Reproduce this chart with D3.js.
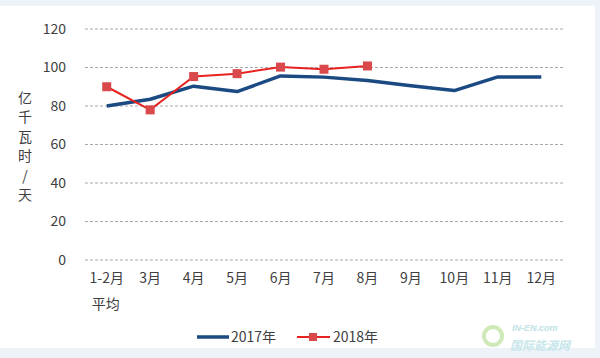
<!DOCTYPE html>
<html><head><meta charset="utf-8">
<script src="https://cdn.jsdelivr.net/npm/d3@7/dist/d3.min.js"></script>
<style>html,body{margin:0;padding:0;background:#fff;}svg{display:block;}</style>
</head><body>
<svg id="chart" width="600" height="358"></svg>
<script>
const categories = ["1-2月","3月","4月","5月","6月","7月","8月","9月","10月","11月","12月"];
const series2017 = [80, 83.5, 90.3, 87.5, 95.6, 95.0, 93.3, 90.5, 88.0, 95.1, 95.1];
const series2018 = [90, 78, 95.3, 96.8, 100.2, 99.1, 100.8];
const yTicks = [0, 20, 40, 60, 80, 100, 120];
const yTitle = ["亿","千","瓦","时","/","天"];
const legendNames = ["2017年","2018年"];

const svg = d3.select("#chart");
const font = "'Noto Sans CJK SC','Noto Sans',sans-serif";
svg.append("rect").attr("width",600).attr("height",358).attr("fill","#edf3f9");
svg.append("rect").attr("x",0).attr("y",6).attr("width",595).attr("height",342).attr("fill","#ffffff");

const x = d3.scaleBand().domain(categories).range([85,563]);
const y = d3.scaleLinear().domain([0,120]).range([260,29]);

// gridlines
svg.append("g").selectAll("line").data(yTicks).join("line")
  .attr("x1",85).attr("x2",563)
  .attr("y1",d=>y(d)).attr("y2",d=>y(d))
  .attr("stroke","#a8a8a8").attr("stroke-width",1).attr("stroke-dasharray","3,2");

// y axis
const yAxis = svg.append("g").attr("transform","translate(66,0)")
  .call(d3.axisLeft(y).tickValues(yTicks).tickSize(0).tickPadding(0));
yAxis.select(".domain").remove();
yAxis.selectAll("text").attr("font-family",font).attr("font-size",14).attr("fill","#404040");

// x axis
const xAxis = svg.append("g").attr("transform","translate(0,273)")
  .call(d3.axisBottom(x).tickSize(0).tickPadding(0));
xAxis.select(".domain").remove();
xAxis.selectAll("text").attr("font-family",font).attr("font-size",14).attr("fill","#404040").attr("dy","0.71em");
svg.append("text").attr("x",x(categories[0])+x.bandwidth()/2-1).attr("y",309)
  .attr("text-anchor","middle").attr("font-family",font).attr("font-size",14).attr("fill","#404040").text("平均");

// y title
svg.append("g").selectAll("text").data(yTitle).join("text")
  .attr("x",25).attr("y",(d,i)=>98+i*19.4).attr("dy","0.35em")
  .attr("text-anchor","middle").attr("font-family",font).attr("font-size",14).attr("fill","#404040")
  .text(d=>d);

const cx = d=>x(d)+x.bandwidth()/2;
const line = d3.line().x((d,i)=>cx(categories[i])).y(d=>y(d));

svg.append("path").datum(series2017).attr("d",line)
  .attr("fill","none").attr("stroke","#1b4a82").attr("stroke-width",3.5).attr("stroke-linejoin","round");
svg.append("path").datum(series2018).attr("d",line)
  .attr("fill","none").attr("stroke","#e8231f").attr("stroke-width",2);
svg.append("g").selectAll("rect").data(series2018).join("rect")
  .attr("x",(d,i)=>cx(categories[i])-4.5).attr("y",d=>y(d)-4.5)
  .attr("width",9).attr("height",9).attr("fill","#d9484a");

// legend
const lg = svg.append("g");
lg.append("line").attr("x1",197).attr("x2",229).attr("y1",337).attr("y2",337).attr("stroke","#1b4a82").attr("stroke-width",3.5);
lg.append("text").attr("x",231).attr("y",337).attr("dy","0.35em").attr("font-family",font).attr("font-size",14).attr("fill","#404040").text(legendNames[0]);
lg.append("line").attr("x1",297).attr("x2",330).attr("y1",337).attr("y2",337).attr("stroke","#e8231f").attr("stroke-width",2);
lg.append("rect").attr("x",309).attr("y",333).attr("width",8).attr("height",8).attr("fill","#d9484a");
lg.append("text").attr("x",333).attr("y",337).attr("dy","0.35em").attr("font-family",font).attr("font-size",14).attr("fill","#404040").text(legendNames[1]);

// watermark
svg.append("text").attr("x",512).attr("y",331).attr("font-family","Arial,sans-serif").attr("font-size",9).attr("font-style","italic").attr("font-weight","bold").attr("fill","#bfe3e6").text("IN-EN.com");
svg.append("text").attr("x",510).attr("y",350).attr("font-family",font).attr("font-size",12).attr("font-weight","bold").attr("font-style","italic").attr("fill","#c8e6ea").text("国际能源网");
svg.append("circle").attr("cx",493).attr("cy",336).attr("r",9).attr("fill","none").attr("stroke","#cfe9b8").attr("stroke-width",4);
</script>
</body></html>
